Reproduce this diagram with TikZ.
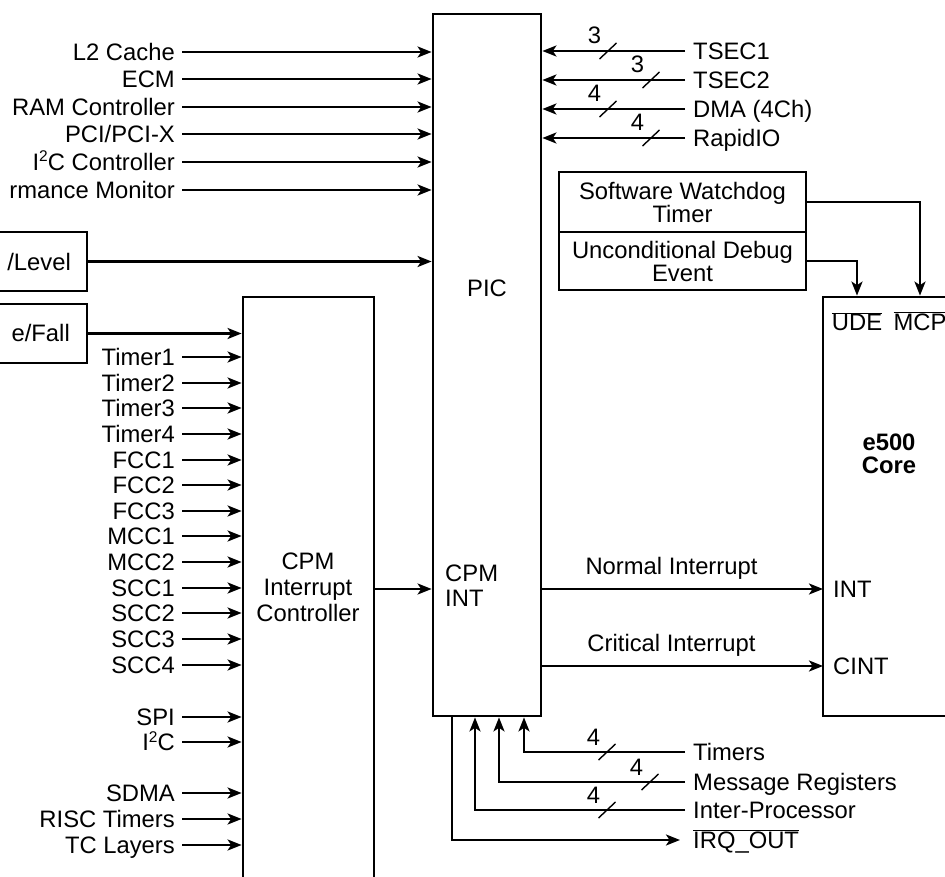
\documentclass[tikz,border=0pt]{standalone}
\usepackage{fontspec}
\setmainfont{Liberation Sans}
\usetikzlibrary{arrows.meta}
\newcommand{\sqtwo}{\raisebox{8.5pt}{\fontsize{15.5}{15.5}\selectfont 2}}
\begin{document}
\begin{tikzpicture}[x=1pt,y=-1pt,
  every node/.style={font=\fontsize{23.8}{25}\selectfont},
  arr/.style={line width=2.4pt,-{Stealth[length=14pt,width=11pt,inset=3.5pt]}},
  blk/.style={draw,line width=2.8pt,inner sep=0pt},
  lab/.style={inner ysep=0pt,inner xsep=0pt,text height=17pt,text depth=0pt},
  lin/.style={lab,anchor=east,inner xsep=7pt},
  rin/.style={lab,anchor=west,inner xsep=8pt},
  tickmark/.style={line width=1.4pt}]
\useasboundingbox (0,0) rectangle (945,877);
\clip (0,0) rectangle (945,877);
% blocks
\node[blk,minimum width=108pt,minimum height=702pt] (pic) at (487,365) {};
\node[blk,minimum width=131pt,minimum height=600pt] (cpm) at (308.5,597) {};
\node[blk,minimum width=167pt,minimum height=419pt] (core) at (906.5,506.5) {};
\node[blk,minimum width=247pt,minimum height=60pt,align=center,font=\fontsize{23.8}{23}\selectfont] (wd) at (682.5,202) {Software Watchdog\\Timer};
\node[blk,minimum width=247pt,minimum height=58pt,align=center,font=\fontsize{23.8}{23}\selectfont] (ude) at (682.5,261) {Unconditional Debug\\Event};
\node[blk,minimum width=117pt,minimum height=59pt] (lvl) at (28.5,261.5) {};
\node[blk,minimum width=117pt,minimum height=59pt] (rf) at (28.5,333.5) {};
% block labels
\node[lab] (piclab) at (487,288) {PIC};
\node[anchor=west,align=left,inner sep=0pt] (cpmint) at (445,586) {CPM\\INT};
\node[align=center,inner sep=0pt,font=\fontsize{23.8}{26}\selectfont] (cpmlab) at (308,587) {CPM\\Interrupt\\Controller};
\node[lab,font=\bfseries\fontsize{23.8}{25}\selectfont] (e5lab) at (889,442) {e500};
\node[lab,font=\bfseries\fontsize{23.8}{25}\selectfont] (corelab) at (889,465) {Core};
\node[lab,anchor=east] (lvltxt) at (71,262) {/Level};
\node[lab,anchor=east] (rftxt) at (70,333) {e/Fall};
\node[lab] (udelab) at (857,322) {$\overline{\mbox{UDE}}$};
\node[lab] (mcplab) at (920,322) {$\overline{\mbox{MCP}}$};
% left inputs to PIC
\foreach \n/\y/\t in {l2/52/L2 Cache, ecm/79/ECM, ram/107/RAM Controller, pci/134/{PCI/PCI-X}, i2cc/162/I\sqtwo C Controller, perf/190/rmance Monitor}{
  \node[lin] (\n) at (182,\y) {\t};
  \draw[arr] (\n.east) -- (\n.east -| pic.west);
}
\draw[arr] (lvl.east) -- (lvl.east -| pic.west);
\draw[arr] (rf.east) -- (rf.east -| cpm.west);
% CPM inputs
\foreach \n/\y/\t in {t1/357/Timer1, t2/383/Timer2, t3/408/Timer3, t4/434/Timer4, f1/460/FCC1, f2/485/FCC2, f3/511/FCC3, m1/536/MCC1, m2/562/MCC2, s1/588/SCC1, s2/613/SCC2, s3/639/SCC3, s4/665/SCC4, spi/717/SPI, i2c/742/I\sqtwo C, sdma/793/SDMA, risc/819/RISC Timers, tcl/845/TC Layers}{
  \node[lin] (\n) at (182,\y) {\t};
  \draw[arr] (\n.east) -- (\n.east -| cpm.west);
}
% right inputs to PIC
\foreach \n/\y/\t in {ts1/51/TSEC1, ts2/80/TSEC2, dma/109/DMA (4Ch), rio/138/RapidIO}{
  \node[rin] (\n) at (685,\y) {\t};
  \draw[arr] (\n.west) -- (\n.west -| pic.east);
}
% core inputs
\node[lab,anchor=west,inner xsep=10pt] (int) at (823,589) {INT};
\node[lab,anchor=west,inner xsep=10pt] (cint) at (823,666) {CINT};
\draw[arr] (cpm.east |- int.west) -- (pic.west |- int.west);
\draw[arr] (int.west -| pic.east) -- node[lab,pos=0.46,above=13pt] {Normal Interrupt} (int.west);
\draw[arr] (cint.west -| pic.east) -- node[lab,pos=0.46,above=13pt] {Critical Interrupt} (cint.west);
\draw[arr] (wd.east) -| (mcplab.north |- core.north);
\draw[arr] (ude.east) -| (udelab.north |- core.north);
% bottom
\node[rin] (tim) at (685,752) {Timers};
\node[rin] (msg) at (685,782) {Message Registers};
\node[rin] (ipr) at (685,810) {Inter-Processor};
\node[lab,anchor=west,inner xsep=13pt] (irq) at (680,840) {$\overline{\mbox{IRQ\_OUT}}$};
\draw[arr] (tim.west) -| ([xshift=37pt]pic.south);
\draw[arr] (msg.west) -| ([xshift=12pt]pic.south);
\draw[arr] (ipr.west) -| ([xshift=-12pt]pic.south);
\draw[arr] ([xshift=-35pt]pic.south) |- (irq.west);
% bus width ticks
\foreach \x/\y/\k in {608/51/3, 651/80/3, 608/109/4, 651/138/4, 607/752/4, 650/782/4, 607/810/4}{
  \node[lab] at ({\x-13.5},{\y-15.5}) {\k};
  \draw[tickmark] (\x,\y) ++(-8.5,8) -- ++(17,-16);
}
\end{tikzpicture}
\end{document}
